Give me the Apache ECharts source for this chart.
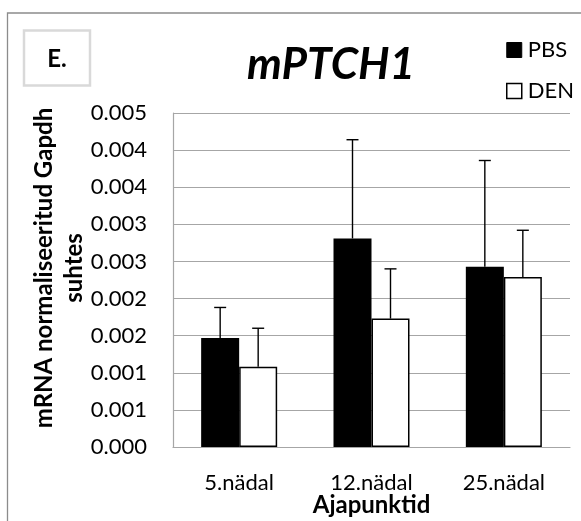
<!DOCTYPE html>
<html>
<head>
<meta charset="utf-8">
<script src="https://cdn.jsdelivr.net/npm/echarts@6/dist/echarts.min.js"></script>
<style>
  html, body { margin: 0; padding: 0; background: #fff; }
  #chart { width: 581px; height: 521px; }
</style>
</head>
<body>
<div id="chart"></div>
<script>
// andmed (loetud pildilt)
const categories = ['5.nädal', '12.nädal', '25.nädal']
const pbsValues = [0.00147, 0.00281, 0.00243]
const pbsErrors = [0.00041, 0.00133, 0.00143]
const denValues = [0.00108, 0.00173, 0.00229]
const denErrors = [0.00052, 0.00067, 0.00063]
const yTickLabels = ['0.000', '0.001', '0.001', '0.002', '0.002', '0.003', '0.003', '0.004', '0.004', '0.005']

const FONT = 'Lato, "Open Sans", sans-serif'
const BAR_W = 38

// veapiirid: vertikaalne joon + ülemine kriips
function errorBarRenderer(offset) {
  return function (params, api) {
    const cat = api.value(0)
    const mean = api.value(1)
    const err = api.value(2)
    const base = api.coord([cat, mean])
    const top = api.coord([cat, mean + err])
    const x = base[0] + offset
    const style = { stroke: '#000', lineWidth: 1.4 }
    return {
      type: 'group',
      children: [
        { type: 'line', shape: { x1: x, y1: base[1], x2: x, y2: top[1] }, style },
        { type: 'line', shape: { x1: x - 6, y1: top[1], x2: x + 6, y2: top[1] }, style }
      ]
    }
  }
}

const chart = echarts.init(document.getElementById('chart'), null, { renderer: 'canvas' })

const option = {
  animation: false,
  textStyle: { fontFamily: FONT },
  title: {
    text: 'mPTCH1',
    left: 326,
    textAlign: 'center',
    top: 38,
    textStyle: {
      fontFamily: FONT,
      fontSize: 44,
      fontWeight: 'bold',
      fontStyle: 'italic',
      color: '#000'
    }
  },
  legend: {
    orient: 'vertical',
    left: 501,
    top: 33,
    icon: 'rect',
    itemWidth: 15,
    itemHeight: 15,
    itemGap: 17,
    textStyle: { fontFamily: FONT, fontSize: 22, color: '#000', lineHeight: 24, padding: [0, 0, 0, 1] },
    data: [
      { name: 'PBS', itemStyle: { color: '#000', borderColor: '#000', borderWidth: 1 } },
      { name: 'DEN', itemStyle: { color: '#fff', borderColor: '#000', borderWidth: 1.5 } }
    ]
  },
  grid: {
    left: 173,
    right: 11,
    top: 113,
    bottom: 74,
    containLabel: false,
    outerBoundsMode: 'none'
  },
  xAxis: {
    type: 'category',
    data: categories,
    name: 'Ajapunktid',
    nameLocation: 'middle',
    nameGap: 46,
    nameMoveOverlap: false,
    nameTextStyle: { fontFamily: FONT, fontSize: 24, fontWeight: 'bold', color: '#000' },
    axisLine: { lineStyle: { color: '#a6a6a6', width: 1.2 } },
    axisTick: { show: false },
    axisLabel: { fontFamily: FONT, fontSize: 22, color: '#000', margin: 25 }
  },
  yAxis: {
    type: 'value',
    min: 0,
    max: 0.0045,
    interval: 0.0005,
    name: 'mRNA normaliseeritud Gapdh\nsuhtes',
    nameLocation: 'middle',
    nameRotate: 90,
    nameGap: 84,
    nameMoveOverlap: false,
    nameTextStyle: {
      fontFamily: FONT,
      fontSize: 24,
      fontWeight: 'bold',
      color: '#000',
      lineHeight: 30,
      padding: [0, 0, 0, 24]
    },
    axisLine: { show: true, lineStyle: { color: '#a6a6a6', width: 1.2 } },
    axisTick: { show: false },
    splitLine: { lineStyle: { color: '#a6a6a6', width: 1.2 } },
    axisLabel: {
      fontFamily: FONT,
      fontSize: 22,
      color: '#000',
      margin: 26,
      formatter: (value, index) => yTickLabels[index]
    }
  },
  series: [
    {
      name: 'PBS',
      type: 'bar',
      barWidth: BAR_W,
      barGap: '0%',
      itemStyle: { color: '#000', borderColor: '#000', borderWidth: 1.5 },
      data: pbsValues
    },
    {
      name: 'DEN',
      type: 'bar',
      barWidth: BAR_W,
      barGap: '0%',
      itemStyle: { color: '#fff', borderColor: '#000', borderWidth: 1.5 },
      data: denValues
    },
    {
      name: 'PBS viga',
      type: 'custom',
      z: 5,
      renderItem: errorBarRenderer(-BAR_W / 2),
      data: categories.map((c, i) => [i, pbsValues[i], pbsErrors[i]])
    },
    {
      name: 'DEN viga',
      type: 'custom',
      z: 5,
      renderItem: errorBarRenderer(BAR_W / 2),
      data: categories.map((c, i) => [i, denValues[i], denErrors[i]])
    }
  ],
  graphic: [
    // välimine raam (paremal ja all lõigatud)
    {
      type: 'rect',
      shape: { x: 7.5, y: 13, width: 700, height: 700 },
      style: { fill: 'none', stroke: '#8c8c8c', lineWidth: 1.3 },
      silent: true
    },
    // "E." kast
    {
      type: 'rect',
      shape: { x: 24, y: 30.5, width: 66, height: 55 },
      style: { fill: '#fff', stroke: '#d9d9d9', lineWidth: 2.5 },
      silent: true
    },
    {
      type: 'text',
      x: 57,
      y: 59,
      style: {
        text: 'E.',
        fontFamily: FONT,
        fontSize: 24,
        fontWeight: 'bold',
        fill: '#000',
        align: 'center',
        verticalAlign: 'middle'
      },
      silent: true
    }
  ]
}

chart.setOption(option)
</script>
</body>
</html>
